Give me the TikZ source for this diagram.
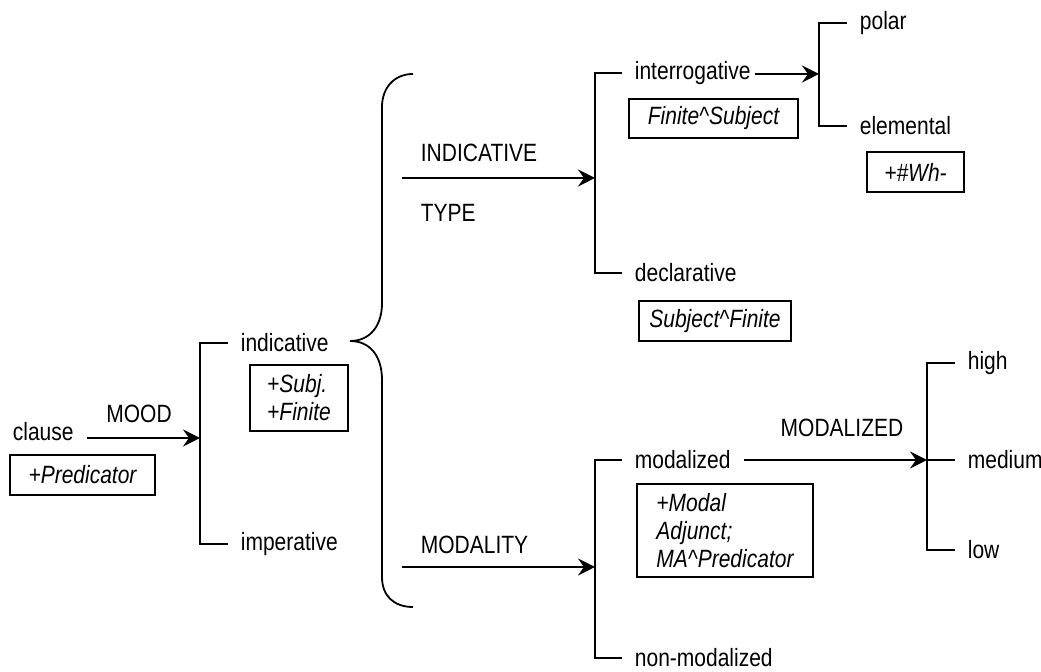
\documentclass[tikz,border=0pt]{standalone}
\usepackage{fontspec}
\setmainfont{Liberation Sans}[FakeStretch=0.84]
\usetikzlibrary{arrows.meta}
\begin{document}
\begin{tikzpicture}[
		x=0.5pt,y=-0.5pt,
		line width=0.9pt,
		every node/.style={
				font=\fontsize{12.5}{14}\selectfont,
			},
		term/.style={anchor=west, inner xsep=6pt, inner ysep=1pt},
		feat/.style={draw, font=\fontsize{12.5}{14}\selectfont\itshape, align=left, inner sep=0pt},
		arr/.style={-{Stealth[length=8.5pt,width=8.5pt,inset=3pt]}},
	]
	\useasboundingbox (0,0) rectangle (1041,672);

	% MOOD
	\node[term] (clause) at (0,432) {clause};
	\node[feat, minimum width=72.5pt, minimum height=20pt] (pred) at (82.5,475) {+Predicator};
	\coordinate (moodpt) at (200,438);
	\node (mood) at (139,414) {MOOD};
	\draw[arr] (clause.east |- moodpt) -- (moodpt);
	\node[term] (indicative) at (228,343) {indicative};
	\node[term] (imperative) at (228,544) {imperative};
	\draw (indicative.west) -| (moodpt) |- (imperative.west);
	\node[feat, minimum width=49pt, minimum height=33pt] (subj) at (299,398) {+Subj.\\+Finite};

	% brace
	\draw (413,74) .. controls (394,74) and (382,88) .. (382,107) -- (382,303)
		.. controls (382,326) and (370,341) .. (350,341)
		.. controls (370,341) and (382,356) .. (382,380) -- (382,577)
		.. controls (382,596) and (394,607) .. (413,607);

	% INDICATIVE TYPE
	\node[term] (indlbl) at (408,153) {INDICATIVE};
	\node[term] (typelbl) at (408,213) {TYPE};
	\coordinate (indfrom) at (402,178);
	\coordinate (typept) at (595,178);
	\draw[arr] (indfrom) -- (typept);
	\node[term] (interrogative) at (622,73) {interrogative};
	\node[term] (declarative) at (622,273) {declarative};
	\draw (interrogative.west) -| (typept) |- (declarative.west);
	\node[feat, minimum width=84.5pt, minimum height=19.5pt] (finsubj) at (713.5,118.5) {Finite\textasciicircum Subject};
	\node[feat, minimum width=76pt, minimum height=20pt] (subjfin) at (715,321) {Subject\textasciicircum Finite};

	% interrogative
	\coordinate (interpt) at (819,74);
	\draw[arr] ([xshift=-4pt]interrogative.east |- interpt) -- (interpt);
	\node[term] (polar) at (847,23) {polar};
	\node[term] (elemental) at (847,126) {elemental};
	\draw (polar.west) -| (interpt) |- (elemental.west);
	\node[feat, minimum width=48.5pt, minimum height=20pt] (wh) at (915.5,172) {+\#Wh-};

	% MODALITY
	\node[term] (modlbl) at (408,545) {MODALITY};
	\coordinate (modfrom) at (402,567);
	\coordinate (modpt) at (595,567);
	\draw[arr] (modfrom) -- (modpt);
	\node[term] (modalized) at (622,460) {modalized};
	\node[term] (nonmodalized) at (622,658) {non-modalized};
	\draw (modalized.west) -| (modpt) |- (nonmodalized.west);
	\node[feat, minimum width=88pt, minimum height=46.5pt] (modbox) at (725,530.5) {+Modal\\Adjunct;\\MA\textasciicircum Predicator};

	% MODALIZED
	\coordinate (degpt) at (927,460);
	\node (modzlbl) at (842,428) {MODALIZED};
	\draw[arr] (modalized.east) -- (degpt);
	\node[term] (high) at (955,363) {high};
	\node[term] (medium) at (955,460) {medium};
	\node[term] (low) at (955,550) {low};
	\draw (high.west) -| (degpt) |- (low.west);
	\draw (degpt) -- (medium.west);
\end{tikzpicture}
\end{document}
